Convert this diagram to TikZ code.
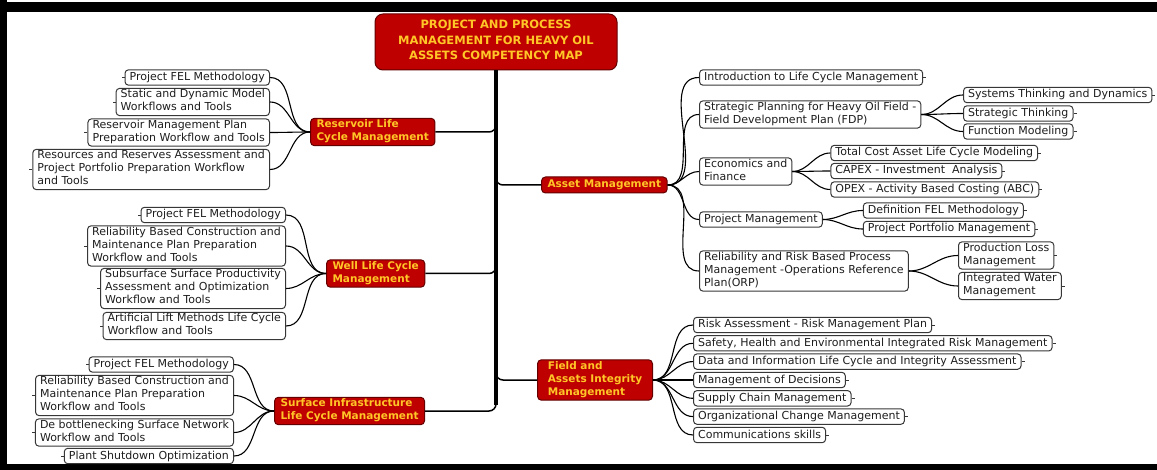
\documentclass[tikz,border=0pt]{standalone}
\usepackage{fontspec}
\setmainfont{DejaVu Sans}
\usetikzlibrary{calc}
\definecolor{boxred}{RGB}{190,0,0}
\definecolor{boxredd}{RGB}{100,0,0}
\definecolor{gold}{RGB}{255,198,40}
\definecolor{leafline}{RGB}{55,55,55}
\definecolor{leaftext}{RGB}{30,30,30}
\newcommand\mystrut{\rule[-3.5pt]{0pt}{13pt}}
\newcommand\rootstrut{\rule[-4pt]{0pt}{15.5pt}}
\begin{document}
\begin{tikzpicture}[x=1pt,y=-1pt,
 leaf/.style={draw=leafline, line width=1pt, rounded corners=3.5pt, fill=white,
   inner xsep=4.6pt, inner ysep=1.2pt, align=left, text=leaftext,
   font=\fontsize{11}{13}\selectfont,
   execute at begin node=\mystrut, execute at end node=\mystrut},
 topic/.style={draw=boxredd, line width=1pt, rounded corners=4pt, fill=boxred,
   inner xsep=6pt, inner ysep=1.5pt, align=left, text=gold,
   font=\fontsize{10.5}{13}\selectfont\bfseries,
   execute at begin node=\mystrut, execute at end node=\mystrut},
 rootbox/.style={draw=boxredd, line width=1pt, rounded corners=8pt, fill=boxred,
   align=center, text=gold, minimum width=242pt, minimum height=56pt,
   inner sep=2pt, font=\fontsize{11.5}{15.5}\selectfont\bfseries,
   execute at begin node=\rootstrut, execute at end node=\rootstrut},
 conn/.style={line width=1.1pt, draw=black},
 branch/.style={line width=1.5pt, draw=black, rounded corners=7pt},
 stub/.style={line width=0.7pt, draw=leafline}
]
\useasboundingbox (0,0) rectangle (1157,470);
% frame
\fill[black] (0,2) rectangle (1157,12);
\fill[black] (0,0) rectangle (7,470);
\fill[black] (0,464) rectangle (1157,470);

% root
\node[rootbox] (root) at (496,42) {PROJECT AND PROCESS\\MANAGEMENT FOR HEAVY OIL\\ASSETS COMPETENCY MAP};

% main topics
\node[topic, anchor=west] (res) at (310,132) {Reservoir Life\\Cycle Management};
\node[topic, anchor=west] (well) at (326,273.5) {Well Life Cycle\\Management};
\node[topic, anchor=west] (surf) at (274,411) {Surface Infrastructure\\Life Cycle Management};
\node[topic, anchor=west] (asset) at (541,185) {Asset Management};
\node[topic, anchor=west, minimum width=115pt] (field) at (537,380) {Field and\\Assets Integrity\\Management};

% trunk
\coordinate (tb) at ($(root.south)+(0,334)$);
\draw[line width=4pt] (root.south) -- (tb);
\draw[branch] ($(root.south)+(0,50)$) |- (res.east);
\draw[branch] ($(root.south)+(0,102)$) |- (asset.west);
\draw[branch] ($(root.south)+(0,190)$) |- (well.east);
\draw[branch] ($(root.south)+(0,296)$) |- (field.west);
\draw[branch] ($(root.south)+(0,326)$) |- (surf.east);

% reservoir leaves
\node[leaf, anchor=east] (rfel) at (270,77.5) {Project FEL Methodology};
\node[leaf, anchor=east] (rsdm) at (270,102) {Static and Dynamic Model\\Workflows and Tools};
\node[leaf, anchor=east] (rmp) at (270,132.5) {Reservoir Management Plan\\Preparation Workflow and Tools};
\node[leaf, anchor=east] (rrr) at (270,169.5) {Resources and Reserves Assessment and\\Project Portfolio Preparation Workflow\\and Tools};
\foreach \c in {rfel,rsdm,rmp,rrr} {
  \draw[conn] (res.west) to[out=180,in=0] (\c.east);
  \draw[stub] (\c.west) -- ++(-3,0);
}

% well leaves
\node[leaf, anchor=east] (wfel) at (286,215) {Project FEL Methodology};
\node[leaf, anchor=east] (wrb) at (286,246) {Reliability Based Construction and\\Maintenance Plan Preparation\\Workflow and Tools};
\node[leaf, anchor=east] (wss) at (286,288.5) {Subsurface Surface Productivity\\Assessment and Optimization\\Workflow and Tools};
\node[leaf, anchor=east] (wal) at (286,326) {Artificial Lift Methods Life Cycle\\Workflow and Tools};
\foreach \c in {wfel,wrb,wss,wal} {
  \draw[conn] (well.west) to[out=180,in=0] (\c.east);
  \draw[stub] (\c.west) -- ++(-3,0);
}

% surface leaves
\node[leaf, anchor=east] (sfel) at (234,364.5) {Project FEL Methodology};
\node[leaf, anchor=east] (srb) at (234,395.5) {Reliability Based Construction and\\Maintenance Plan Preparation\\Workflow and Tools};
\node[leaf, anchor=east] (sdb) at (234,432.5) {De bottlenecking Surface Network\\Workflow and Tools};
\node[leaf, anchor=east] (spso) at (234,456) {Plant Shutdown Optimization};
\foreach \c in {sfel,srb,sdb,spso} {
  \draw[conn] (surf.west) to[out=180,in=0] (\c.east);
  \draw[stub] (\c.west) -- ++(-3,0);
}

% asset children
\node[leaf, anchor=west] (intro) at (699,77.5) {Introduction to Life Cycle Management};
\node[leaf, anchor=west] (sp) at (699,114.5) {Strategic Planning for Heavy Oil Field -\\Field Development Plan (FDP)};
\node[leaf, anchor=west] (econ) at (699,171.5) {Economics and\\Finance};
\node[leaf, anchor=west] (pm) at (699,219.5) {Project Management};
\node[leaf, anchor=west] (orp) at (699,271) {Reliability and Risk Based Process\\Management -Operations Reference\\Plan(ORP)};
\foreach \c in {intro,sp,econ,pm,orp} {
  \draw[conn] (asset.east) to[out=0,in=180] (\c.west);
}
\draw[stub] (intro.east) -- ++(3,0);

% grandchildren
\node[leaf, anchor=west] (st) at (963,95) {Systems Thinking and Dynamics};
\node[leaf, anchor=west] (sth) at (963,113.5) {Strategic Thinking};
\node[leaf, anchor=west] (fm) at (963,131.5) {Function Modeling};
\foreach \c in {st,sth,fm} {
  \draw[conn] (sp.east) to[out=0,in=180] (\c.west);
  \draw[stub] (\c.east) -- ++(3,0);
}
\node[leaf, anchor=west, xshift=38pt, yshift=18.5pt] (tc) at (econ.east) {Total Cost Asset Life Cycle Modeling};
\node[leaf, anchor=west, xshift=38pt, yshift=0.5pt] (capex) at (econ.east) {CAPEX - Investment\ \ Analysis};
\node[leaf, anchor=west, xshift=38pt, yshift=-18pt] (opex) at (econ.east) {OPEX - Activity Based Costing (ABC)};
\foreach \c in {tc,capex,opex} {
  \draw[conn] (econ.east) to[out=0,in=180] (\c.west);
  \draw[stub] (\c.east) -- ++(3,0);
}
\node[leaf, anchor=west, xshift=40pt, yshift=9pt] (dfel) at (pm.east) {Definition FEL Methodology};
\node[leaf, anchor=west, xshift=40pt, yshift=-9.5pt] (ppm) at (pm.east) {Project Portfolio Management};
\foreach \c in {dfel,ppm} {
  \draw[conn] (pm.east) to[out=0,in=180] (\c.west);
  \draw[stub] (\c.east) -- ++(3,0);
}
\node[leaf, anchor=west] (pl) at (958,255.5) {Production Loss\\Management};
\node[leaf, anchor=west] (iw) at (958,286) {Integrated Water\\Management};
\foreach \c in {pl,iw} {
  \draw[conn] (orp.east) to[out=0,in=180] (\c.west);
  \draw[stub] (\c.east) -- ++(3,0);
}

% field children
\node[leaf, anchor=west] (f1) at (693,325) {Risk Assessment - Risk Management Plan};
\node[leaf, anchor=west] (f2) at (693,343.3) {Safety, Health and Environmental Integrated Risk Management};
\node[leaf, anchor=west] (f3) at (693,361.6) {Data and Information Life Cycle and Integrity Assessment};
\node[leaf, anchor=west] (f4) at (693,380) {Management of Decisions};
\node[leaf, anchor=west] (f5) at (693,398.3) {Supply Chain Management};
\node[leaf, anchor=west] (f6) at (693,416.6) {Organizational Change Management};
\node[leaf, anchor=west] (f7) at (693,435) {Communications skills};
\foreach \c in {f1,f2,f3,f4,f5,f6,f7} {
  \draw[conn] (field.east) to[out=0,in=180] (\c.west);
  \draw[stub] (\c.east) -- ++(3,0);
}
\end{tikzpicture}
\end{document}
